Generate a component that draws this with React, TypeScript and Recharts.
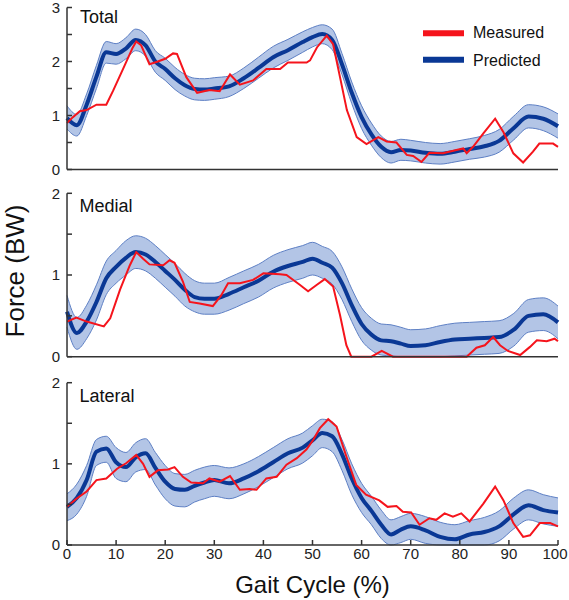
import React from 'react';
import { ComposedChart, Area, Line, XAxis, YAxis } from 'recharts';

// common gait-cycle grid for the predicted curves (%)
const gaitX = [0, 2, 4, 6, 8, 10, 12, 14, 16, 18, 20, 22, 24, 26, 28, 30, 33, 36, 39, 42, 45, 48, 50, 52, 54, 56, 58, 60, 62, 64, 66, 68, 70, 73, 76, 79, 82, 85, 88, 91, 94, 97, 100];

const totalMean = [0.95, 0.82, 1.2, 1.72, 2.17, 2.14, 2.24, 2.4, 2.3, 2.0, 1.86, 1.69, 1.56, 1.49, 1.48, 1.5, 1.54, 1.69, 1.88, 2.08, 2.21, 2.36, 2.45, 2.51, 2.4, 1.95, 1.42, 0.97, 0.65, 0.42, 0.32, 0.36, 0.35, 0.31, 0.29, 0.33, 0.38, 0.43, 0.53, 0.77, 0.98, 0.94, 0.8];
const totalLow = [0.75, 0.62, 1.0, 1.5, 1.97, 1.95, 2.05, 2.2, 2.1, 1.8, 1.65, 1.48, 1.36, 1.29, 1.28, 1.3, 1.35, 1.5, 1.69, 1.88, 2.02, 2.17, 2.27, 2.33, 2.22, 1.76, 1.22, 0.76, 0.45, 0.22, 0.12, 0.17, 0.16, 0.12, 0.1, 0.14, 0.19, 0.23, 0.32, 0.55, 0.77, 0.72, 0.58];
const totalHigh = [1.18, 1.02, 1.4, 1.93, 2.37, 2.33, 2.44, 2.6, 2.5, 2.2, 2.06, 1.89, 1.76, 1.69, 1.68, 1.7, 1.73, 1.88, 2.08, 2.28, 2.41, 2.55, 2.63, 2.68, 2.6, 2.15, 1.62, 1.18, 0.86, 0.62, 0.52, 0.56, 0.54, 0.5, 0.48, 0.52, 0.57, 0.63, 0.74, 0.99, 1.2, 1.16, 1.03];

const medialMean = [0.55, 0.29, 0.43, 0.67, 0.96, 1.1, 1.21, 1.28, 1.25, 1.16, 1.05, 0.94, 0.82, 0.73, 0.71, 0.71, 0.77, 0.85, 0.93, 1.04, 1.11, 1.16, 1.2, 1.15, 1.09, 0.9, 0.63, 0.4, 0.27, 0.2, 0.19, 0.16, 0.13, 0.14, 0.18, 0.21, 0.22, 0.23, 0.24, 0.33, 0.5, 0.52, 0.42];
const medialLow = [0.36, 0.09, 0.22, 0.45, 0.76, 0.9, 1.0, 1.08, 1.05, 0.96, 0.85, 0.74, 0.62, 0.55, 0.52, 0.52, 0.57, 0.65, 0.73, 0.84, 0.91, 0.96, 1.0, 0.96, 0.89, 0.7, 0.43, 0.2, 0.08, 0.02, 0.01, 0, 0, 0, 0, 0.01, 0.02, 0.03, 0.04, 0.13, 0.3, 0.32, 0.22];
const medialHigh = [0.75, 0.48, 0.63, 0.88, 1.17, 1.3, 1.42, 1.48, 1.45, 1.36, 1.25, 1.14, 1.02, 0.93, 0.9, 0.9, 0.97, 1.05, 1.13, 1.24, 1.31, 1.36, 1.4, 1.35, 1.29, 1.1, 0.83, 0.6, 0.47, 0.4, 0.39, 0.36, 0.33, 0.34, 0.38, 0.41, 0.42, 0.43, 0.44, 0.53, 0.7, 0.72, 0.62];

const lateralMean = [0.47, 0.58, 0.8, 1.15, 1.19, 1.02, 0.96, 1.08, 1.13, 0.95, 0.78, 0.69, 0.68, 0.73, 0.77, 0.8, 0.76, 0.82, 0.91, 1.02, 1.13, 1.2, 1.29, 1.38, 1.34, 1.12, 0.82, 0.58, 0.42, 0.25, 0.13, 0.19, 0.23, 0.18, 0.1, 0.07, 0.13, 0.16, 0.23, 0.38, 0.49, 0.43, 0.4];
const lateralLow = [0.3, 0.38, 0.6, 0.98, 1.02, 0.82, 0.78, 0.9, 0.93, 0.74, 0.57, 0.48, 0.47, 0.53, 0.57, 0.6, 0.57, 0.63, 0.72, 0.83, 0.94, 1.01, 1.1, 1.2, 1.15, 0.92, 0.62, 0.4, 0.25, 0.08, 0, 0.03, 0.07, 0.02, 0, 0, 0, 0, 0.05, 0.2, 0.31, 0.26, 0.23];
const lateralHigh = [0.63, 0.75, 0.98, 1.3, 1.34, 1.2, 1.14, 1.26, 1.31, 1.14, 0.98, 0.88, 0.87, 0.92, 0.96, 0.98, 0.95, 1.0, 1.09, 1.2, 1.31, 1.38, 1.47, 1.55, 1.52, 1.3, 1.0, 0.76, 0.6, 0.43, 0.31, 0.35, 0.39, 0.35, 0.28, 0.25, 0.3, 0.34, 0.42, 0.58, 0.68, 0.62, 0.58];

// measured curves, sampled where the trace changes direction
const totalMeasX = [0, 1.2, 2.6, 4, 6, 8, 9.4, 11.4, 13.4, 14.1, 15.1, 16.8, 18.5, 20, 21.6, 22.4, 24.3, 26.5, 29, 31.1, 33.2, 35.2, 37.9, 40.6, 43.4, 45, 48.8, 49.5, 50.9, 52.9, 54.2, 55.6, 57, 59, 61, 63.4, 65.1, 67.1, 69.2, 70.5, 72.2, 73.8, 76.6, 79.3, 80.7, 81.4, 82.7, 84.8, 87.2, 88.9, 90.9, 92.9, 94.9, 96.2, 99, 100];
const totalMeasY = [0.86, 0.97, 1.08, 1.1, 1.2, 1.2, 1.46, 1.86, 2.26, 2.37, 2.3, 1.95, 2.0, 2.05, 2.15, 2.14, 1.71, 1.42, 1.47, 1.45, 1.76, 1.57, 1.65, 1.86, 1.86, 1.98, 1.98, 2.02, 2.26, 2.48, 2.32, 1.71, 1.1, 0.6, 0.47, 0.6, 0.52, 0.5, 0.27, 0.25, 0.14, 0.31, 0.3, 0.36, 0.39, 0.3, 0.42, 0.67, 0.94, 0.69, 0.3, 0.13, 0.33, 0.48, 0.48, 0.42];

const medialMeasX = [0, 1.9, 4, 7.5, 8.8, 10.8, 12.8, 14.1, 15.5, 16.8, 19.6, 20.9, 21.9, 23.6, 25, 27, 29.7, 31.4, 32.8, 35.2, 37.9, 40, 43.4, 44.7, 47.4, 49.1, 50.9, 52.5, 54.2, 55.6, 56.9, 57.9, 62, 64.1, 66.4, 80, 81.4, 83.4, 85.1, 86.8, 88.2, 89.8, 92.3, 94.3, 95.7, 97.7, 99.3, 100];
const medialMeasY = [0.43, 0.48, 0.43, 0.37, 0.47, 0.82, 1.12, 1.28, 1.2, 1.13, 1.12, 1.18, 1.15, 0.92, 0.67, 0.65, 0.62, 0.75, 0.9, 0.9, 0.94, 1.02, 1.01, 1.0, 0.88, 0.8, 0.88, 0.95, 0.86, 0.51, 0.14, 0, 0, 0.07, 0, 0, 0, 0.11, 0.14, 0.24, 0.14, 0.07, 0.02, 0.12, 0.2, 0.19, 0.22, 0.19];

const lateralMeasX = [0, 1.9, 4, 6, 8, 10.2, 12.1, 14.1, 15.5, 16.8, 18.5, 20.6, 21.9, 23.6, 25.3, 27.7, 29, 31.1, 33.2, 35.2, 37.2, 38.6, 40.6, 42.7, 44.7, 46.8, 48.8, 50.1, 51.5, 53.2, 54.9, 56.9, 58.9, 60.9, 63.6, 65.3, 67.1, 68.4, 70.1, 71.8, 73.8, 75.2, 76.9, 78.6, 80.3, 82, 84.8, 87.2, 88.9, 90.9, 92.9, 94.3, 96.3, 98.4, 100];
const lateralMeasY = [0.47, 0.57, 0.66, 0.8, 0.82, 0.94, 1.01, 1.11, 1.0, 0.84, 0.92, 0.93, 0.96, 0.84, 0.77, 0.76, 0.82, 0.78, 0.85, 0.68, 0.69, 0.68, 0.82, 0.84, 0.99, 1.07, 1.18, 1.29, 1.44, 1.55, 1.46, 1.09, 0.74, 0.62, 0.55, 0.47, 0.48, 0.41, 0.4, 0.25, 0.33, 0.31, 0.39, 0.35, 0.39, 0.29, 0.51, 0.72, 0.55, 0.27, 0.1, 0.12, 0.27, 0.27, 0.23];

const xTicks = [0, 10, 20, 30, 40, 50, 60, 70, 80, 90, 100];

const FONT = '"Liberation Sans", Arial, sans-serif';
const RED = '#f5141c';
const NAVY = '#0a3895';
const AXIS = '#333';

const bandData = (mean: number[], low: number[], high: number[]) =>
  gaitX.map((x, i) => ({ x, mean: mean[i], band: [low[i], high[i]] }));

const measData = (xs: number[], ys: number[]) => xs.map((x, i) => ({ x, y: ys[i] }));

// bottom tick labels; the last one is nudged so it stays inside the page
const GaitTick = (props: any) => {
  const { x, y, payload } = props;
  const v = payload.value;
  return (
    <text x={v === 100 ? x - 3 : x} y={y} dy="0.71em" textAnchor="middle" fill="#222" fontSize={15} fontFamily={FONT}>
      {v}
    </text>
  );
};

interface PanelProps {
  top: number;
  height: number;
  marginTop: number;
  yMax: number;
  pred: { x: number; mean: number; band: number[] }[];
  meas: { x: number; y: number }[];
  bottom?: boolean;
}

const Panel = ({ top, height, marginTop, yMax, pred, meas, bottom }: PanelProps) => {
  const yTicks: number[] = [];
  for (let v = 0; v <= yMax; v += 0.5) yTicks.push(v);
  return (
    <div style={{ position: 'absolute', left: 0, top }}>
      <ComposedChart width={569} height={height} margin={{ top: marginTop, right: 11, bottom: 0, left: 0 }}>
        <XAxis
          dataKey="x"
          type="number"
          domain={[0, 100]}
          ticks={xTicks}
          interval={0}
          allowDuplicatedCategory={false}
          height={bottom ? 55 : 10}
          tickSize={-5}
          tickMargin={8}
          axisLine={{ stroke: AXIS, strokeWidth: 1.5 }}
          tickLine={{ stroke: AXIS, strokeWidth: 1.5 }}
          tick={bottom ? <GaitTick /> : false}
          label={bottom ? { value: 'Gait Cycle (%)', position: 'insideBottom', offset: 7, fill: '#111', fontSize: 24, fontFamily: FONT } : undefined}
        />
        <YAxis
          type="number"
          domain={[0, yMax]}
          ticks={yTicks}
          interval={0}
          width={67}
          tickSize={-5}
          tickMargin={12}
          axisLine={{ stroke: AXIS, strokeWidth: 1.5 }}
          tickLine={{ stroke: AXIS, strokeWidth: 1.5 }}
          tick={{ fill: '#222', fontSize: 15, fontFamily: FONT }}
          tickFormatter={(v: number) => (Number.isInteger(v) ? String(v) : '')}
        />
        <Area
          data={pred}
          dataKey="band"
          type="monotone"
          fill="#b3c5e6"
          fillOpacity={1}
          stroke="#5d7fc4"
          strokeWidth={1}
          isAnimationActive={false}
        />
        <Line data={pred} dataKey="mean" type="monotone" stroke={NAVY} strokeWidth={4} dot={false} isAnimationActive={false} />
        <Line data={meas} dataKey="y" type="linear" stroke={RED} strokeWidth={2} dot={false} isAnimationActive={false} />
      </ComposedChart>
    </div>
  );
};

export default function App() {
  return (
    <div style={{ position: 'absolute', left: 0, top: 0, width: 569, height: 600, background: '#fff', fontFamily: FONT }}>
      <Panel top={0} height={179.5} marginTop={7.5} yMax={3} pred={bandData(totalMean, totalLow, totalHigh)} meas={measData(totalMeasX, totalMeasY)} />
      <Panel top={180} height={186.7} marginTop={13.3} yMax={2} pred={bandData(medialMean, medialLow, medialHigh)} meas={measData(medialMeasX, medialMeasY)} />
      <Panel top={367} height={233} marginTop={15.7} yMax={2} pred={bandData(lateralMean, lateralLow, lateralHigh)} meas={measData(lateralMeasX, lateralMeasY)} bottom />
      <svg width={569} height={600} style={{ position: 'absolute', left: 0, top: 0, pointerEvents: 'none' }}>
        <g fontFamily={FONT} fill="#111">
          <text x={80} y={22.7} fontSize={18}>Total</text>
          <text x={79.5} y={211.7} fontSize={18}>Medial</text>
          <text x={79.5} y={402.3} fontSize={18}>Lateral</text>
          <text transform="translate(23.5,271) rotate(-90)" textAnchor="middle" fontSize={26}>Force (BW)</text>
          <line x1={423} x2={464} y1={33.3} y2={33.3} stroke={RED} strokeWidth={6} />
          <text x={473} y={37.5} fontSize={16}>Measured</text>
          <line x1={423} x2={464} y1={59.7} y2={59.7} stroke={NAVY} strokeWidth={6} />
          <text x={473} y={65.5} fontSize={16}>Predicted</text>
        </g>
      </svg>
    </div>
  );
}
